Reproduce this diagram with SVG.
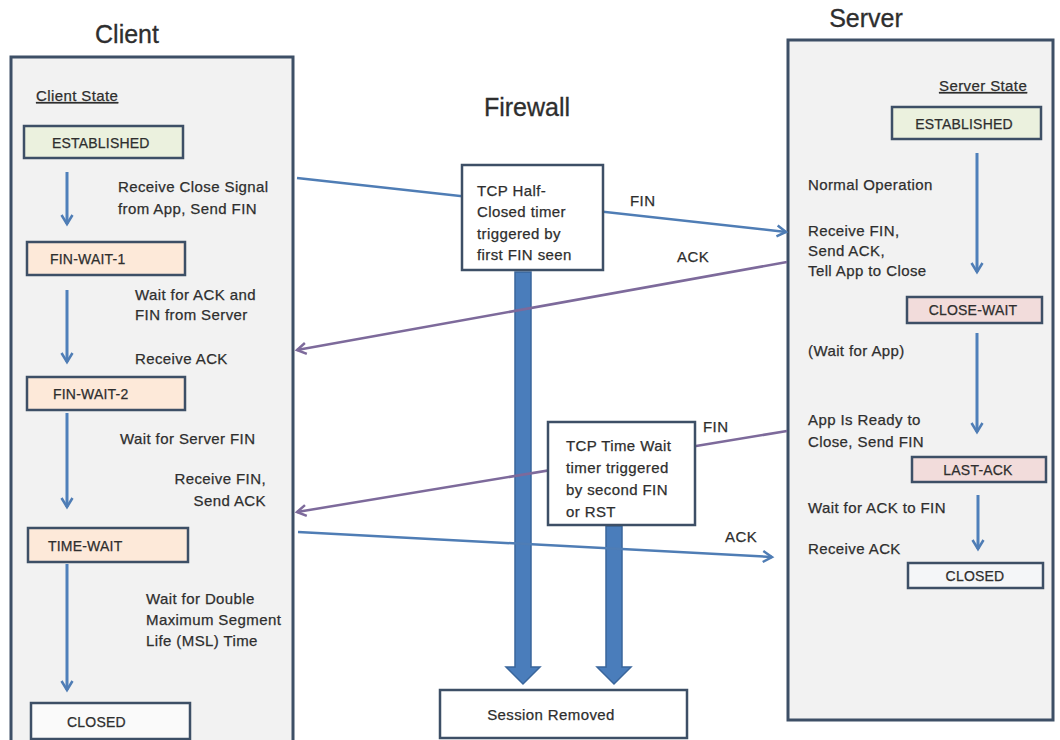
<svg xmlns="http://www.w3.org/2000/svg" width="1060" height="740" viewBox="0 0 1060 740">
  <style>
    text { font-family: "Liberation Sans", Arial, sans-serif; fill: #2e2e2e; stroke: #2e2e2e; stroke-width: 0.25; }
    .title { font-size: 25px; stroke-width: 0.3; }
    .body { font-size: 15px; letter-spacing: 0.4px; }
    .state { font-size: 14px; letter-spacing: 0.2px; }
    .frame { fill: #f2f2f2; stroke: #3d4f66; stroke-width: 3; }
    .sbox { stroke: #3d4f66; stroke-width: 2.5; }
    .est { fill: #ebf1de; }
    .peach { fill: #fde9d9; }
    .pink { fill: #f2dcdb; }
    .plain { fill: #f4f6f8; }
    .note { fill: #ffffff; stroke: #3d4f66; stroke-width: 2.5; }
    .flow { stroke: #4f80bb; stroke-width: 3; fill: none; marker-end: url(#headBlue); }
    .msgBlue { stroke: #4f7db5; stroke-width: 2.5; fill: none; marker-end: url(#headBlue); }
    .msgPurple { stroke: #7d6a9b; stroke-width: 2.5; fill: none; marker-end: url(#headPurple); }
    .thick { fill: #4a7dbb; stroke: #3a669c; stroke-width: 1.5; }
  </style>
  <defs>
    <marker id="headBlue" viewBox="0 0 14 14" refX="11" refY="7" markerWidth="14" markerHeight="14" markerUnits="userSpaceOnUse" orient="auto">
      <path d="M2,1.5 L11,7 L2,12.5" fill="none" stroke="#4f7db5" stroke-width="2.5"/>
    </marker>
    <marker id="headPurple" viewBox="0 0 14 14" refX="11" refY="7" markerWidth="14" markerHeight="14" markerUnits="userSpaceOnUse" orient="auto">
      <path d="M2,1.5 L11,7 L2,12.5" fill="none" stroke="#7d6a9b" stroke-width="2.5"/>
    </marker>
  </defs>

  <rect width="1060" height="740" fill="#ffffff"/>

  <!-- Client side -->
  <g id="client">
    <text class="title" x="127" y="43" text-anchor="middle">Client</text>
    <rect class="frame" x="11" y="57" width="282" height="700"/>
    <text class="body" x="36" y="101" text-decoration="underline">Client State</text>
  </g>

  <!-- Server side -->
  <g id="server">
    <text class="title" x="866" y="27" text-anchor="middle">Server</text>
    <rect class="frame" x="788" y="40" width="265" height="680"/>
    <text class="body" x="939" y="91" text-decoration="underline">Server State</text>
  </g>

  <g id="firewall-title">
    <text class="title" x="527" y="116" text-anchor="middle">Firewall</text>
  </g>

  <!-- Session timer arrows -->
  <g id="timer-arrows">
    <polygon class="thick" points="515,272 531,272 531,667 540,667 523,684 506,667 515,667"/>
    <polygon class="thick" points="606,526 622,526 622,667 631,667 614,684 597,667 606,667"/>
  </g>

  <!-- Connectors -->
  <g id="connectors">
    <!-- client state flow -->
    <line class="flow" x1="67" y1="172" x2="67" y2="224"/>
    <line class="flow" x1="67" y1="290" x2="67" y2="362"/>
    <line class="flow" x1="67" y1="413" x2="67" y2="507"/>
    <line class="flow" x1="67" y1="564" x2="67" y2="690"/>
    <!-- server state flow -->
    <line class="flow" x1="977" y1="153" x2="977" y2="272"/>
    <line class="flow" x1="977" y1="333" x2="977" y2="432"/>
    <line class="flow" x1="978" y1="495" x2="978" y2="549"/>
    <!-- packets -->
    <line class="msgBlue" x1="297" y1="178" x2="786" y2="232"/>
    <line class="msgPurple" x1="787" y1="262" x2="297" y2="350"/>
    <line class="msgPurple" x1="787" y1="431" x2="297" y2="512"/>
    <line class="msgBlue" x1="298" y1="532" x2="772" y2="557"/>
    <text class="body" x="630" y="206">FIN</text>
    <text class="body" x="677" y="262">ACK</text>
    <text class="body" x="703" y="432">FIN</text>
    <text class="body" x="725" y="542">ACK</text>
  </g>

  <!-- Client states -->
  <g id="c-established">
    <rect class="sbox est" x="24" y="126" width="159" height="32"/>
    <text class="state" x="52" y="148">ESTABLISHED</text>
  </g>
  <g id="c-note1">
    <text class="body" x="118" y="192">Receive Close Signal</text>
    <text class="body" x="118" y="214">from App, Send FIN</text>
  </g>
  <g id="c-fin-wait-1">
    <rect class="sbox peach" x="27" y="242" width="158" height="33"/>
    <text class="state" x="50" y="264">FIN-WAIT-1</text>
  </g>
  <g id="c-note2">
    <text class="body" x="135" y="300">Wait for ACK and</text>
    <text class="body" x="135" y="320">FIN from Server</text>
    <text class="body" x="135" y="364">Receive ACK</text>
  </g>
  <g id="c-fin-wait-2">
    <rect class="sbox peach" x="27" y="377" width="158" height="33"/>
    <text class="state" x="53" y="399">FIN-WAIT-2</text>
  </g>
  <g id="c-note3">
    <text class="body" x="120" y="444">Wait for Server FIN</text>
    <text class="body" x="266" y="484" text-anchor="end">Receive FIN,</text>
    <text class="body" x="266" y="506" text-anchor="end">Send ACK</text>
  </g>
  <g id="c-time-wait">
    <rect class="sbox peach" x="28" y="528" width="160" height="34"/>
    <text class="state" x="48" y="551">TIME-WAIT</text>
  </g>
  <g id="c-note4">
    <text class="body" x="146" y="604">Wait for Double</text>
    <text class="body" x="146" y="625">Maximum Segment</text>
    <text class="body" x="146" y="646">Life (MSL) Time</text>
  </g>
  <g id="c-closed">
    <rect class="sbox" fill="#fafafa" x="31" y="703" width="159" height="36"/>
    <text class="state" x="67" y="727">CLOSED</text>
  </g>

  <!-- Firewall notes -->
  <g id="half-closed-timer">
    <rect class="note" x="462" y="165" width="141" height="105"/>
    <text class="body" x="477" y="196">TCP Half-</text>
    <text class="body" x="477" y="217">Closed timer</text>
    <text class="body" x="477" y="239">triggered by</text>
    <text class="body" x="477" y="260">first FIN seen</text>
  </g>
  <g id="time-wait-timer">
    <rect class="note" x="548" y="422" width="147" height="103"/>
    <text class="body" x="566" y="451">TCP Time Wait</text>
    <text class="body" x="566" y="473">timer triggered</text>
    <text class="body" x="566" y="495">by second FIN</text>
    <text class="body" x="566" y="517">or RST</text>
  </g>
  <g id="session-removed">
    <rect class="note" x="440" y="690" width="247" height="48"/>
    <text class="body" x="551" y="720" text-anchor="middle">Session Removed</text>
  </g>

  <!-- Server states -->
  <g id="s-established">
    <rect class="sbox est" x="892" y="107" width="149" height="32"/>
    <text class="state" x="964" y="129" text-anchor="middle">ESTABLISHED</text>
  </g>
  <g id="s-note1">
    <text class="body" x="808" y="190">Normal Operation</text>
    <text class="body" x="808" y="236">Receive FIN,</text>
    <text class="body" x="808" y="256">Send ACK,</text>
    <text class="body" x="808" y="276">Tell App to Close</text>
  </g>
  <g id="s-close-wait">
    <rect class="sbox pink" x="907" y="297" width="135" height="26"/>
    <text class="state" x="973" y="315" text-anchor="middle">CLOSE-WAIT</text>
  </g>
  <g id="s-note2">
    <text class="body" x="808" y="356">(Wait for App)</text>
    <text class="body" x="808" y="425">App Is Ready to</text>
    <text class="body" x="808" y="447">Close, Send FIN</text>
  </g>
  <g id="s-last-ack">
    <rect class="sbox pink" x="912" y="457" width="134" height="25"/>
    <text class="state" x="978" y="475" text-anchor="middle">LAST-ACK</text>
  </g>
  <g id="s-note3">
    <text class="body" x="808" y="513">Wait for ACK to FIN</text>
    <text class="body" x="808" y="554">Receive ACK</text>
  </g>
  <g id="s-closed">
    <rect class="sbox plain" x="908" y="563" width="135" height="25"/>
    <text class="state" x="975" y="581" text-anchor="middle">CLOSED</text>
  </g>
</svg>
